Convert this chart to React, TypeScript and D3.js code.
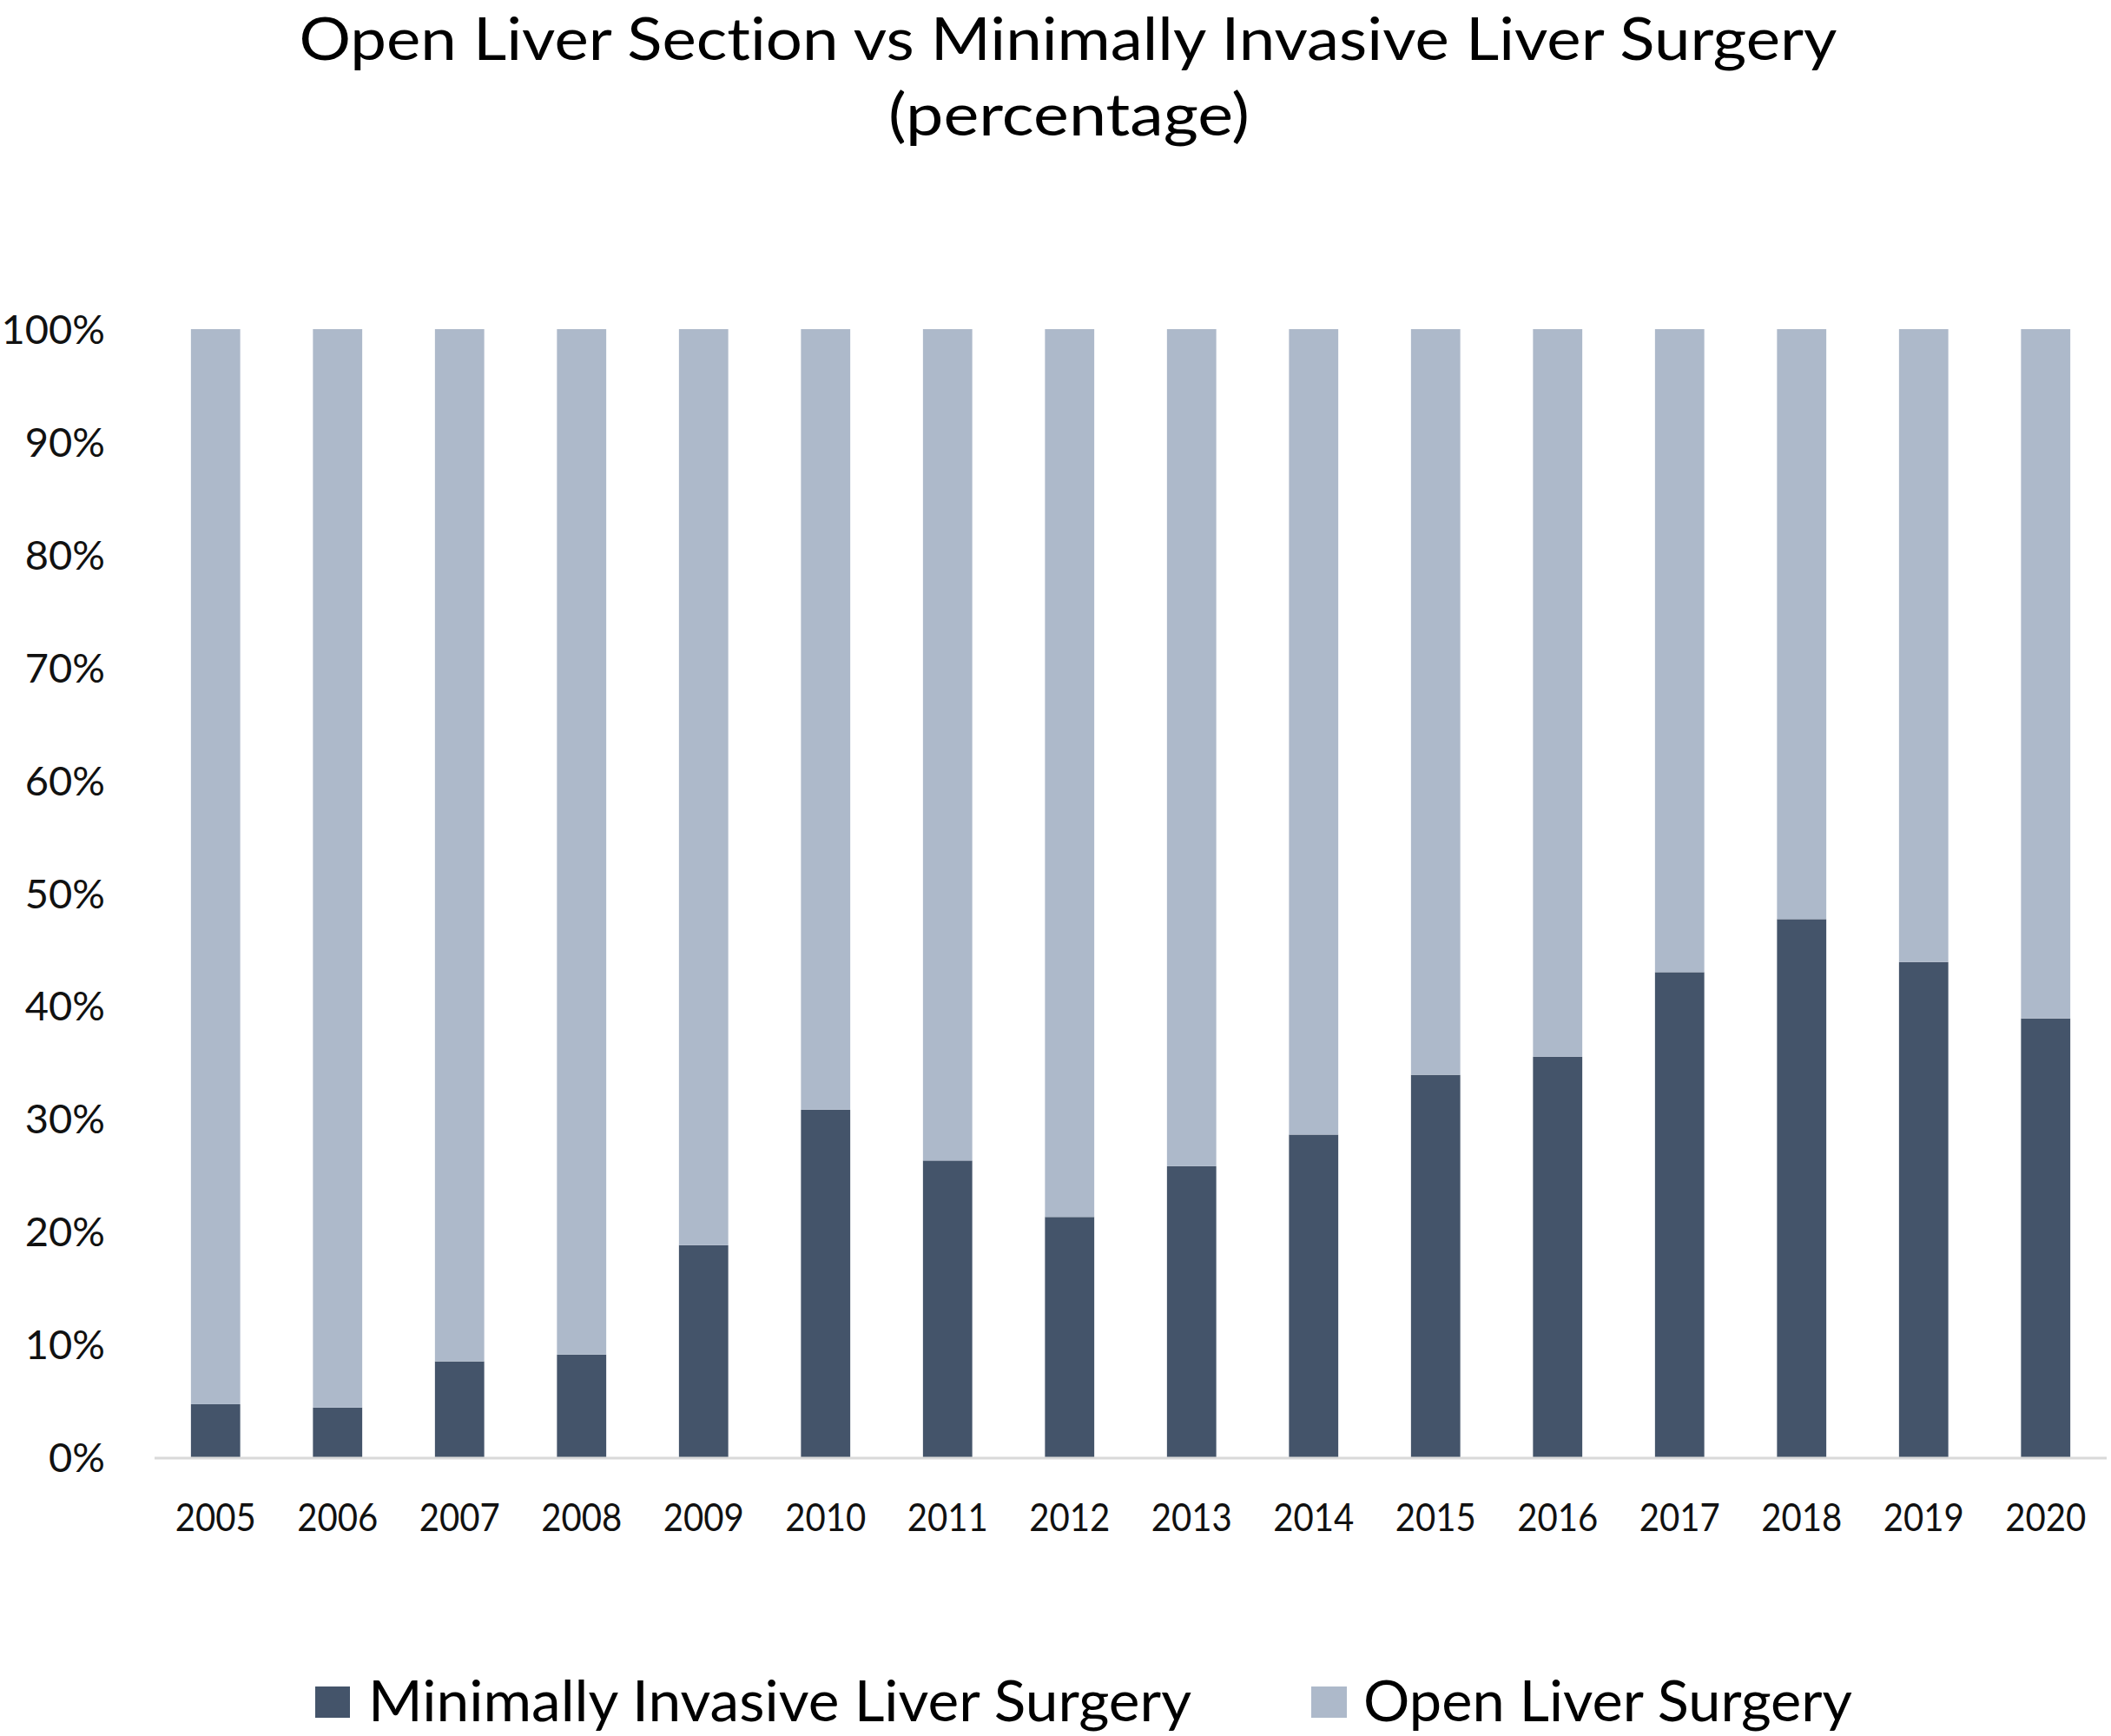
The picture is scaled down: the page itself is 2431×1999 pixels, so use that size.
import React from 'react';
import * as d3 from 'd3';

const years = ['2005','2006','2007','2008','2009','2010','2011','2012','2013','2014','2015','2016','2017','2018','2019','2020'];
const minimallyInvasive = [4.7, 4.4, 8.5, 9.1, 18.8, 30.8, 26.3, 21.3, 25.8, 28.6, 33.9, 35.5, 43.0, 47.7, 43.9, 38.9];
const openSurgery = [95.3, 95.6, 91.5, 90.9, 81.2, 69.2, 73.7, 78.7, 74.2, 71.4, 66.1, 64.5, 57.0, 52.3, 56.1, 61.1];
const yTicks = [0, 10, 20, 30, 40, 50, 60, 70, 80, 90, 100];
const seriesNames = ['Minimally Invasive Liver Surgery', 'Open Liver Surgery'];
const seriesKeys = ['mis', 'open'];
const colors = ['#44546A', '#ADB9CA'];

const W = 2431;
const H = 1999;
const FONT = 'Lato, "Open Sans", sans-serif';
const noLig = { fontVariantLigatures: 'none', fontFeatureSettings: '"liga" 0, "clig" 0' } as React.CSSProperties;

export default function App() {
  const rows = years.map((y, i) => ({ year: y, mis: minimallyInvasive[i], open: openSurgery[i] }));
  const stacked = d3.stack<any>().keys(seriesKeys)(rows);

  const x = d3.scaleBand<string>().domain(years).range([178, 2426]).paddingInner(0.596).paddingOuter(0.298);
  const y = d3.scaleLinear().domain([0, 100]).range([1678, 379]);

  return (
    <svg width={W} height={H} viewBox={`0 0 ${W} ${H}`} style={{ position: 'absolute', left: 0, top: 0, background: '#fff' }}>
      <rect x={0} y={0} width={W} height={H} fill="#fff" />
      <text x={1230} y={69} textAnchor="middle" fontFamily={FONT} fontSize={68} fill="#000" textLength={1771} lengthAdjust="spacingAndGlyphs" style={noLig}>
        Open Liver Section vs Minimally Invasive Liver Surgery
      </text>
      <text x={1231} y={156} textAnchor="middle" fontFamily={FONT} fontSize={68} fill="#000" textLength={416} lengthAdjust="spacingAndGlyphs" style={noLig}>
        (percentage)
      </text>

      {yTicks.map(t => (
        <text key={t} x={121} y={y(t) + 17} textAnchor="end" fontFamily={FONT} fontSize={47} fill="#111">
          {t}%
        </text>
      ))}

      {stacked.map((s, si) => (
        <g key={s.key} fill={colors[si]}>
          {s.map((d: any, i: number) => (
            <rect key={i} x={x(years[i])} width={x.bandwidth()} y={y(d[1])} height={y(d[0]) - y(d[1])} />
          ))}
        </g>
      ))}

      <line x1={178} x2={2426} y1={1679} y2={1679} stroke="#D9D9D9" strokeWidth={3} />

      {years.map(yr => (
        <text key={yr} x={(x(yr) as number) + x.bandwidth() / 2} y={1763} textAnchor="middle" fontFamily={FONT} fontSize={44} fill="#111" textLength={93} lengthAdjust="spacingAndGlyphs">
          {yr}
        </text>
      ))}

      <rect x={363} y={1942} width={40} height={36} fill={colors[0]} />
      <text x={424} y={1982} fontFamily={FONT} fontSize={66} fill="#000" textLength={948} lengthAdjust="spacingAndGlyphs" style={noLig}>
        {seriesNames[0]}
      </text>
      <rect x={1510} y={1942} width={41} height={36} fill={colors[1]} />
      <text x={1570} y={1982} fontFamily={FONT} fontSize={66} fill="#000" textLength={563} lengthAdjust="spacingAndGlyphs" style={noLig}>
        {seriesNames[1]}
      </text>
    </svg>
  );
}
